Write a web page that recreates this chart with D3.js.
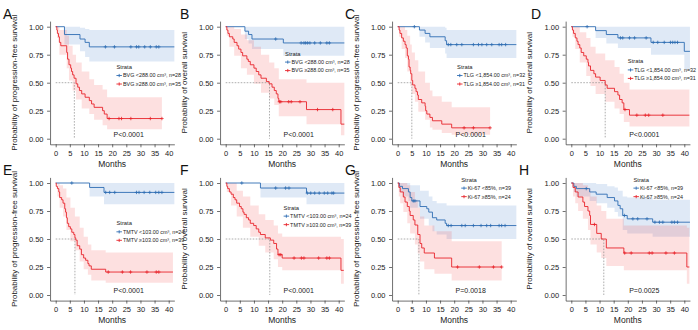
<!DOCTYPE html>
<html>
<head>
<meta charset="utf-8">
<script src="https://cdn.jsdelivr.net/npm/d3@7"></script>
<style>
  body { margin: 0; background: #fff; }
  svg { display: block; font-family: "Liberation Sans", Arial, sans-serif; }
</style>
</head>
<body>
<svg width="698" height="330"></svg>
<script>
// tick values
const monthTicks = [0, 5, 10, 15, 20, 25, 30, 35, 40];
const survTicks = [0, 0.25, 0.5, 0.75, 1];

// panel texts
const panelLetters = ["A", "B", "C", "D", "E", "F", "G", "H"];
const yTitles = [
  "Probability of progression-free survival", "Probability of overall survival",
  "Probability of progression-free survival", "Probability of overall survival",
  "Probability of progression-free survival", "Probability of overall survival",
  "Probability of progression-free survival", "Probability of overall survival"
];
const lowLabels = ["BVG <288.00 cm³, n=28", "BVG <288.00 cm³, n=28", "TLG <1,854.00 cm³, n=32", "TLG <1,854.00 cm³, n=32",
  "TMTV <103.00 cm³, n=24", "TMTV <103.00 cm³, n=24", "Ki-67 <85%, n=39", "Ki-67 <85%, n=39"];
const highLabels = ["BVG ≥288.00 cm³, n=35", "BVG ≥288.00 cm³, n=35", "TLG ≥1,854.00 cm³, n=31", "TLG ≥1,854.00 cm³, n=31",
  "TMTV ≥103.00 cm³, n=39", "TMTV ≥103.00 cm³, n=39", "Ki-67 ≥85%, n=24", "Ki-67 ≥85%, n=24"];
const pValues = ["P<0.0001", "P<0.0001", "P<0.0001", "P<0.0001", "P<0.0001", "P<0.0001", "P=0.0018", "P=0.0025"];
const medians = [6.6, 15.5, 5, 12, 6.8, 15.6, 7.5, 11.5];

// ---- A: PFS by BVG
const A_lo_steps = [[0,1],[3.1,0.93],[8.6,0.89],[10.4,0.86],[11.9,0.82]];
const A_lo_censor = [17.6,20.8,26.6,28.6,29.4,31.5,33.5,35.6,36.5];
const A_lo_ci = [[0,1,1],[3.1,0.84,1],[8.6,0.78,0.99],[10.4,0.73,0.98],[11.9,0.69,0.97]];
const A_hi_steps = [[0,1],[0.4,0.97],[0.6,0.94],[1,0.91],[1.3,0.86],[1.8,0.83],[3.9,0.77],[4.2,0.71],[4.7,0.66],[5.3,0.63],[5.6,0.6],[6,0.57],[6.5,0.54],[7.2,0.49],[7.8,0.46],[8.4,0.43],[9.2,0.4],[10.4,0.37],[11.9,0.34],[12.7,0.31],[13.6,0.28],[16.6,0.25],[17.2,0.22],[18.2,0.18]];
const A_hi_censor = [18.9,22.4,23.3,26.6,33.5,37.6];
const A_hi_ci = [[0,1,1],[0.5,0.9,1],[1.3,0.75,0.97],[3.9,0.63,0.92],[4.7,0.52,0.83],[6,0.43,0.75],[7.2,0.35,0.68],[9.2,0.27,0.6],[11.9,0.22,0.53],[13.6,0.17,0.48],[16.6,0.12,0.44],[18.2,0.085,0.37]];

// ---- B: OS by BVG
const B_lo_steps = [[0,1],[6.8,0.96],[8.1,0.93],[9.3,0.89],[20.4,0.855]];
const B_lo_censor = [17.7,26.7,27.7,28.3,29,29.8,31.5,33.5,35.8,36.7];
const B_lo_ci = [[0,1,1],[6.8,0.89,1],[8.1,0.85,1],[9.3,0.8,1],[20.4,0.74,1]];
const B_hi_steps = [[0,1],[0.4,0.97],[0.8,0.94],[1.3,0.91],[2.5,0.89],[3,0.86],[4,0.83],[4.6,0.8],[5.4,0.77],[6,0.74],[7.5,0.71],[8,0.69],[8.7,0.66],[10,0.63],[10.8,0.6],[11.7,0.57],[12.5,0.54],[14.4,0.51],[15.4,0.49],[16.4,0.46],[17.2,0.43],[17.9,0.4],[18.5,0.36],[18.8,0.33],[28.6,0.26],[40.8,0.13]];
const B_hi_censor = [19,19.5,22.3,23.2,26.3,32.5,37.9];
const B_hi_ci = [[0,1,1],[0.4,0.92,1],[1.3,0.82,1],[3,0.74,0.98],[5.4,0.63,0.93],[7.5,0.57,0.88],[10,0.49,0.82],[12.5,0.41,0.75],[15.4,0.36,0.68],[17.2,0.3,0.63],[18.8,0.2,0.53],[28.6,0.13,0.5],[40.8,0.03,0.5]];

// ---- C: PFS by TLG
const C_lo_steps = [[0,1],[7.7,0.97],[9.7,0.94],[11.4,0.91],[16.8,0.875],[17.3,0.84]];
const C_lo_censor = [5.9,17.9,18.8,20.9,22.7,26.8,28.6,29.8,31.5,33.3,35.9,36.8,38.2];
const C_lo_ci = [[0,1,1],[7.7,0.91,1],[9.7,0.86,1],[11.4,0.81,1],[16.8,0.76,0.99],[17.3,0.72,0.97]];
const C_hi_steps = [[0,1],[0.5,0.97],[0.8,0.94],[1.4,0.9],[2,0.87],[2.6,0.84],[3,0.81],[3.4,0.74],[3.8,0.71],[4,0.64],[4.4,0.61],[4.6,0.58],[5,0.52],[5.3,0.48],[6.1,0.45],[6.5,0.42],[7,0.39],[7.3,0.35],[8.5,0.32],[9.7,0.29],[9.9,0.25],[10.3,0.22],[11.4,0.19],[12.3,0.16],[15.6,0.13],[19.1,0.097]];
const C_hi_censor = [23.5,26.8,32.7];
const C_hi_ci = [[0,1,1],[0.5,0.91,1],[1.4,0.8,1],[2.6,0.72,0.97],[3.4,0.6,0.92],[4.4,0.47,0.84],[5,0.4,0.77],[6.1,0.33,0.7],[7.3,0.24,0.6],[9.7,0.17,0.5],[11.4,0.1,0.43],[12.3,0.08,0.38],[15.6,0.05,0.33],[19.1,0.035,0.28]];

// ---- D: OS by TLG
const D_lo_steps = [[0,1],[8.6,0.965],[12.4,0.93],[16.5,0.9],[28.2,0.86],[40,0.78]];
const D_lo_censor = [5.6,17.4,18.2,20.6,22.4,26.5,29,30.6,32.9,35.1,35.9,36.7,37.6];
const D_lo_ci = [[0,1,1],[8.6,0.9,1],[12.4,0.85,1],[16.5,0.81,1],[28.2,0.75,1],[40,0.62,1]];
const D_hi_steps = [[0,1],[0.4,0.97],[0.8,0.94],[1.4,0.9],[2,0.87],[2.4,0.84],[3,0.81],[3.5,0.77],[4.4,0.74],[5.3,0.71],[5.9,0.68],[6.1,0.65],[6.8,0.61],[8,0.58],[8.6,0.55],[10.2,0.52],[12,0.48],[12.7,0.45],[15.3,0.42],[16.5,0.39],[17.1,0.35],[18,0.32],[18.6,0.26],[20.6,0.21]];
const D_hi_censor = [19,23.2,26.2,27.4,32.4];
const D_hi_ci = [[0,1,1],[0.4,0.91,1],[1.4,0.8,1],[3,0.68,0.95],[5.3,0.56,0.9],[6.8,0.47,0.82],[8.6,0.4,0.76],[12,0.33,0.7],[15.3,0.27,0.64],[17.1,0.22,0.58],[18.6,0.15,0.5],[20.6,0.11,0.44]];

// ---- E: PFS by TMTV
const E_lo_steps = [[0,1],[12,0.96],[17.1,0.916]];
const E_lo_censor = [5.7,17.7,19.1,20.9,28.6,29.5,31.3,33.3,35.4,36.5,37.6];
const E_lo_ci = [[0,1,1],[12,0.88,1],[17.1,0.81,1]];
const E_hi_steps = [[0,1],[0.2,0.97],[0.6,0.95],[1.1,0.92],[1.4,0.87],[2.1,0.85],[2.6,0.82],[3.2,0.77],[3.5,0.74],[3.8,0.69],[4.1,0.64],[4.6,0.61],[5.2,0.59],[5.7,0.56],[6.4,0.54],[6.8,0.51],[7.1,0.49],[7.6,0.44],[8.5,0.41],[9.1,0.36],[9.9,0.33],[10.6,0.31],[11.4,0.28],[11.8,0.26],[12.6,0.23],[17.7,0.205]];
const E_hi_censor = [18.6,23.6,26.5,32.3,35.6,36.5];
const E_hi_ci = [[0,1,1],[0.6,0.88,1],[1.4,0.78,0.98],[2.6,0.7,0.95],[3.8,0.58,0.87],[5.2,0.48,0.78],[6.8,0.4,0.7],[8.5,0.3,0.6],[9.9,0.23,0.52],[11.4,0.18,0.45],[12.6,0.13,0.4],[17.7,0.11,0.38]];

// ---- F: OS by TMTV
const F_lo_steps = [[0,1],[12.3,0.955],[28.6,0.91]];
const F_lo_censor = [5.7,17.7,21.2,22.4,28.9,30.1,31.5,33.1,34.9,36.1,37.6,38.2];
const F_lo_ci = [[0,1,1],[12.3,0.87,1],[28.6,0.81,1]];
const F_hi_steps = [[0,1],[0.4,0.97],[0.7,0.95],[1.3,0.92],[1.9,0.9],[2.7,0.87],[3.3,0.85],[3.9,0.82],[4.9,0.79],[5.5,0.77],[6.1,0.74],[6.5,0.72],[7.3,0.69],[8.1,0.67],[8.7,0.64],[9.9,0.62],[10.8,0.59],[11.7,0.56],[12.3,0.54],[14,0.51],[15.8,0.49],[17,0.46],[18,0.41],[18.5,0.36],[20,0.33],[40.8,0.22]];
const F_hi_censor = [18.9,19.5,24.2,26.8,27.7,32.9,35.8,36.7];
const F_hi_ci = [[0,1,1],[0.4,0.92,1],[1.9,0.8,1],[3.9,0.7,0.93],[6.1,0.6,0.88],[8.7,0.52,0.8],[11.7,0.44,0.72],[14,0.38,0.67],[17,0.32,0.62],[18.5,0.25,0.55],[20,0.22,0.52],[40.8,0.1,0.5]];

// ---- G: PFS by Ki-67
const G_lo_steps = [[0,1],[0.6,0.97],[1.7,0.95],[3.8,0.92],[4.4,0.87],[5,0.84],[7.9,0.79],[10.3,0.77],[11,0.74],[12.3,0.69],[13.8,0.67],[16.8,0.64],[17.3,0.62]];
const G_lo_censor = [5.5,6.1,17.9,18.9,22.7,23.9,26.8,29.5,31.5,32.9,35.9,36.8,38];
const G_lo_ci = [[0,1,1],[0.6,0.92,1],[1.7,0.88,1],[3.8,0.84,1],[4.4,0.78,0.98],[7.9,0.68,0.93],[11,0.62,0.88],[12.3,0.57,0.84],[13.8,0.54,0.82],[17.3,0.5,0.8]];
const G_hi_steps = [[0,1],[0.4,0.96],[0.9,0.92],[2,0.875],[2.6,0.83],[3.4,0.79],[4.1,0.75],[4.4,0.71],[5.5,0.67],[6.1,0.625],[7.1,0.54],[7.9,0.46],[8.5,0.42],[9.4,0.375],[13,0.33],[19.1,0.25]];
const G_hi_censor = [21.2,28.9,33.9,36.8];
const G_hi_ci = [[0,1,1],[0.4,0.88,1],[0.9,0.82,1],[2,0.74,1],[3.4,0.64,0.98],[4.4,0.55,0.92],[6.1,0.45,0.85],[7.1,0.37,0.78],[7.9,0.3,0.7],[9.4,0.23,0.62],[13,0.19,0.57],[19.1,0.13,0.48]];

// ---- H: OS by Ki-67
const H_lo_steps = [[0,1],[0.9,0.97],[1.8,0.95],[6.5,0.92],[8.8,0.9],[12.7,0.87],[15.3,0.84],[16.5,0.8],[17.3,0.77],[18.2,0.71],[19.8,0.68],[28.8,0.65]];
const H_lo_censor = [5.3,18.8,21.8,23.5,26.8,29.6,31.2,32.4,35.6,36.5,37.6];
const H_lo_ci = [[0,1,1],[0.9,0.92,1],[1.8,0.88,1],[6.5,0.84,1],[8.8,0.82,0.99],[12.7,0.78,0.97],[15.3,0.74,0.96],[16.5,0.7,0.93],[18.2,0.58,0.88],[19.8,0.55,0.87],[28.8,0.52,0.85]];
const H_hi_steps = [[0,1],[0.6,0.96],[1.4,0.92],[2.4,0.875],[4.1,0.83],[4.7,0.79],[5.9,0.75],[6.5,0.71],[6.8,0.63],[9,0.55],[10.6,0.5],[12.4,0.42],[18.6,0.375],[40.9,0.25]];
const H_hi_censor = [8.2,18.9,21.2,27.6,28.6,33.5,36.5];
const H_hi_ci = [[0,1,1],[0.6,0.88,1],[1.4,0.82,1],[2.4,0.75,1],[4.1,0.68,0.98],[5.9,0.58,0.95],[6.8,0.45,0.88],[9,0.38,0.8],[10.6,0.33,0.75],[12.4,0.26,0.68],[18.6,0.22,0.62],[40.9,0.1,0.6]];

// last follow-up time of each curve
const lowEnds = [42, 42, 42, 42, 42, 42, 42, 42];
const highEnds = [37.6, 42, 32.7, 41.8, 41.5, 41.8, 36.8, 41.8];

// table built from the arrays above
const curves = [
  [A_lo_steps, A_lo_censor, A_lo_ci, A_hi_steps, A_hi_censor, A_hi_ci],
  [B_lo_steps, B_lo_censor, B_lo_ci, B_hi_steps, B_hi_censor, B_hi_ci],
  [C_lo_steps, C_lo_censor, C_lo_ci, C_hi_steps, C_hi_censor, C_hi_ci],
  [D_lo_steps, D_lo_censor, D_lo_ci, D_hi_steps, D_hi_censor, D_hi_ci],
  [E_lo_steps, E_lo_censor, E_lo_ci, E_hi_steps, E_hi_censor, E_hi_ci],
  [F_lo_steps, F_lo_censor, F_lo_ci, F_hi_steps, F_hi_censor, F_hi_ci],
  [G_lo_steps, G_lo_censor, G_lo_ci, G_hi_steps, G_hi_censor, G_hi_ci],
  [H_lo_steps, H_lo_censor, H_lo_ci, H_hi_steps, H_hi_censor, H_hi_ci]
];

// layout (pixels)
const colX0 = [55.7, 225.7, 397.7, 571.3];
const rowY0 = [138.7, 295];
const plotW = 113, plotH = 112;
const letterX = [3, 180, 345, 531, 3, 180, 345, 519];
// legend anchor in data units [months, survival]
const legendAt = [[21.5, 0.64], [21, 0.76], [21, 0.64], [20, 0.69], [21.5, 0.64], [20.5, 0.78], [22.5, 1.03], [22, 1.03]];

const colors = { low: "#2f6db3", high: "#e8242b", lowBand: "#3a78c8", highBand: "#f03c3c" };

const svg = d3.select("svg");

function survAt(steps, t) {
  let s = steps[0][1];
  steps.forEach(d => { if (d[0] <= t) s = d[1]; });
  return s;
}

function drawPanel(i) {
  const col = i % 4, row = Math.floor(i / 4);
  const x = d3.scaleLinear().domain([0, 40]).range([colX0[col], colX0[col] + plotW]);
  const y = d3.scaleLinear().domain([0, 1]).range([rowY0[row], rowY0[row] - plotH]);
  const g = svg.append("g");
  const [loSteps, loCensor, loCi, hiSteps, hiCensor, hiCi] = curves[i];
  const groups = [
    { steps: loSteps, censor: loCensor, ci: loCi, end: lowEnds[i], color: colors.low, band: colors.lowBand },
    { steps: hiSteps, censor: hiCensor, ci: hiCi, end: highEnds[i], color: colors.high, band: colors.highBand }
  ];

  // confidence bands
  groups.forEach(s => {
    const last = s.ci[s.ci.length - 1];
    const pts = s.ci.concat([[s.end, last[1], last[2]]]);
    g.append("path")
      .datum(pts)
      .attr("d", d3.area().curve(d3.curveStepAfter)
        .x(d => x(d[0])).y0(d => y(d[1])).y1(d => y(d[2])))
      .attr("fill", s.band)
      .attr("fill-opacity", 0.16);
  });

  // median survival lines
  g.append("path")
    .attr("d", `M${x(0)},${y(0.5)}H${x(medians[i])}V${y(0)}`)
    .attr("fill", "none")
    .attr("stroke", "#8a8a8a")
    .attr("stroke-width", 0.7)
    .attr("stroke-dasharray", "1.6,1.4");

  // KM step lines
  groups.forEach(s => {
    const last = s.steps[s.steps.length - 1];
    const pts = s.steps.concat([[s.end, last[1]]]);
    g.append("path")
      .datum(pts)
      .attr("d", d3.line().curve(d3.curveStepAfter).x(d => x(d[0])).y(d => y(d[1])))
      .attr("fill", "none")
      .attr("stroke", s.color)
      .attr("stroke-width", 0.9);

    // censor marks
    g.selectAll(null)
      .data(s.censor)
      .enter().append("path")
      .attr("d", t => {
        const cx = x(t), cy = y(survAt(s.steps, t));
        return `M${cx - 1.7},${cy}H${cx + 1.7}M${cx},${cy - 1.7}V${cy + 1.7}`;
      })
      .attr("stroke", s.color)
      .attr("stroke-width", 0.8);
  });

  // axes
  const xa = x.copy().domain([-2, 42]).range([x(-2), x(42)]);
  const ya = y.copy().domain([-0.05, 1.05]).range([y(-0.05), y(1.05)]);
  const xAxis = g.append("g")
    .attr("transform", `translate(0,${y(-0.05)})`)
    .call(d3.axisBottom(xa).tickValues(monthTicks).tickSize(3).tickSizeOuter(0).tickPadding(3.5));
  const yAxis = g.append("g")
    .attr("transform", `translate(${x(-2)},0)`)
    .call(d3.axisLeft(ya).tickValues(survTicks).tickFormat(d3.format(".2f")).tickSize(3).tickSizeOuter(0).tickPadding(3.5));
  [xAxis, yAxis].forEach(a => {
    a.selectAll("path, line").attr("stroke", "#333").attr("stroke-width", 0.7);
    a.selectAll("text").attr("fill", "#222").style("font-size", "7.5px").style("font-family", "Liberation Sans, Arial, sans-serif");
  });

  // axis titles
  g.append("text")
    .attr("x", x(20))
    .attr("y", y(0) + 28)
    .attr("text-anchor", "middle")
    .attr("fill", "#222")
    .style("font-size", "8.5px")
    .text("Months");
  g.append("text")
    .attr("transform", `translate(${x(0) - 39},${y(0.5)}) rotate(-90)`)
    .attr("text-anchor", "middle")
    .attr("fill", "#222")
    .style("font-size", "8px")
    .text(yTitles[i]);

  // panel letter
  g.append("text")
    .attr("x", letterX[i])
    .attr("y", y(1) - 8)
    .attr("fill", "#111")
    .style("font-size", "14px")
    .text(panelLetters[i]);

  // p-value
  g.append("text")
    .attr("x", x(20.5))
    .attr("y", y(0.04))
    .attr("dy", "0.35em")
    .attr("fill", "#222")
    .style("font-size", "7px")
    .text(pValues[i]);

  // legend
  const lx = x(legendAt[i][0]), ly = y(legendAt[i][1]);
  g.append("text")
    .attr("x", lx).attr("y", ly).attr("dy", "0.35em")
    .attr("fill", "#222").style("font-size", "5.8px")
    .text("Strata");
  [lowLabels[i], highLabels[i]].forEach((label, k) => {
    const ry = ly + 8.5 * (k + 1);
    const c = k === 0 ? colors.low : colors.high;
    g.append("path")
      .attr("d", `M${lx},${ry}H${lx + 5.5}M${lx + 2.75},${ry - 1.6}V${ry + 1.6}`)
      .attr("stroke", c).attr("stroke-width", 0.9);
    g.append("text")
      .attr("x", lx + 6.5).attr("y", ry).attr("dy", "0.35em")
      .attr("fill", "#222").style("font-size", "5.4px")
      .text(label);
  });
}

d3.range(8).forEach(drawPanel);
</script>
</body>
</html>
